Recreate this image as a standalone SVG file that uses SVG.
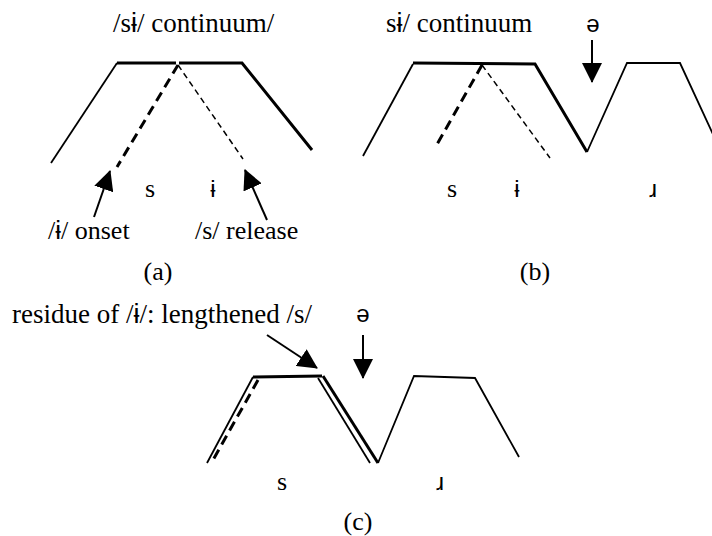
<svg xmlns="http://www.w3.org/2000/svg" width="712" height="536" viewBox="0 0 712 536">
<style>
.t{font-family:'Liberation Serif','Times New Roman','DejaVu Serif',serif;font-size:26px;fill:#000}
.big{font-size:27px}
.ipa{font-family:'Liberation Sans','DejaVu Sans',sans-serif}
.ipat{font-family:'Liberation Sans','DejaVu Sans',sans-serif;font-size:24px;fill:#000}
.thin{stroke:#000;stroke-width:1.8;fill:none}
.thick{stroke:#000;stroke-width:3;fill:none}
.dthick{stroke:#000;stroke-width:3;fill:none;stroke-dasharray:10 6}
.dthin{stroke:#000;stroke-width:1.5;fill:none;stroke-dasharray:6 4}
.arr{stroke:#000;stroke-width:2;fill:none;marker-end:url(#ah)}
</style>
<defs>
<marker id="ah" viewBox="0 0 20 20" refX="19" refY="10" markerWidth="20" markerHeight="20" markerUnits="userSpaceOnUse" orient="auto">
<path d="M0,0 L20,10 L0,20 z" fill="#000"/>
</marker>
</defs>

<g id="panel-a">
<text class="t big" x="113" y="32">/s<tspan class="ipa">ɨ</tspan>/ continuum/</text>
<g id="a-shape">
<path class="thin" d="M51,163 L117,63"/>
<path class="thick" d="M117,63 L176,63"/>
<path class="thick" d="M179,63 L242,63 L312,150"/>
<path class="dthick" d="M178,65 L117,167"/>
<path class="dthin" d="M178,65 L243,159"/>
</g>
<text class="t" x="150" y="197" text-anchor="middle">s</text>
<text class="ipat" x="213" y="197" text-anchor="middle">ɨ</text>
<text class="t" x="48" y="239">/<tspan class="ipa">ɨ</tspan>/ onset</text>
<text class="t" x="195" y="239">/s/ release</text>
<text class="t" x="158" y="280" text-anchor="middle">(a)</text>
</g>

<g id="panel-b">
<text class="t big" x="386" y="32">s<tspan class="ipa">ɨ</tspan>/ continuum</text>
<text class="ipat" x="593" y="32" text-anchor="middle">ə</text>
<g id="b-shape">
<path class="thin" d="M363,156 L413,64"/>
<path class="thick" d="M413,63 L535,64 L587,152"/>
<path class="thin" d="M587,152 L627,63 L680,63 L724,158"/>
<path class="dthick" d="M482,65 L435,148"/>
<path class="dthin" d="M482,65 L550,158"/>
</g>
<text class="t" x="452" y="197" text-anchor="middle">s</text>
<text class="ipat" x="517" y="197" text-anchor="middle">ɨ</text>
<text class="ipat" x="653" y="197" text-anchor="middle">ɹ</text>
<text class="t" x="535" y="280" text-anchor="middle">(b)</text>
</g>

<g id="panel-c">
<text class="t big" x="12" y="323">residue of /<tspan class="ipa">ɨ</tspan>/: lengthened /s/</text>
<text class="ipat" x="363" y="322" text-anchor="middle">ə</text>
<g id="c-shape">
<path class="thin" d="M207,463 L253,377"/>
<path class="thick" d="M253,377 L322,376"/>
<path class="dthick" d="M258,380 L213,460"/>
<path class="thin" d="M318,378 L370,463"/>
<path class="thick" d="M323,376 L378,463"/>
<path class="thin" d="M378,463 L414,376 L475,378 L519,457"/>
</g>
<text class="t" x="282" y="490" text-anchor="middle">s</text>
<text class="ipat" x="440" y="490" text-anchor="middle">ɹ</text>
<text class="t" x="358" y="530" text-anchor="middle">(c)</text>
</g>

<g id="connectors">
<path class="arr" d="M94,217 L110,171"/>
<path class="arr" d="M267,220 L245,170"/>
<path class="arr" d="M592,40 L592,82"/>
<path class="arr" d="M267,335 L317,368"/>
<path class="arr" d="M363,335 L363,378"/>
</g>
</svg>
